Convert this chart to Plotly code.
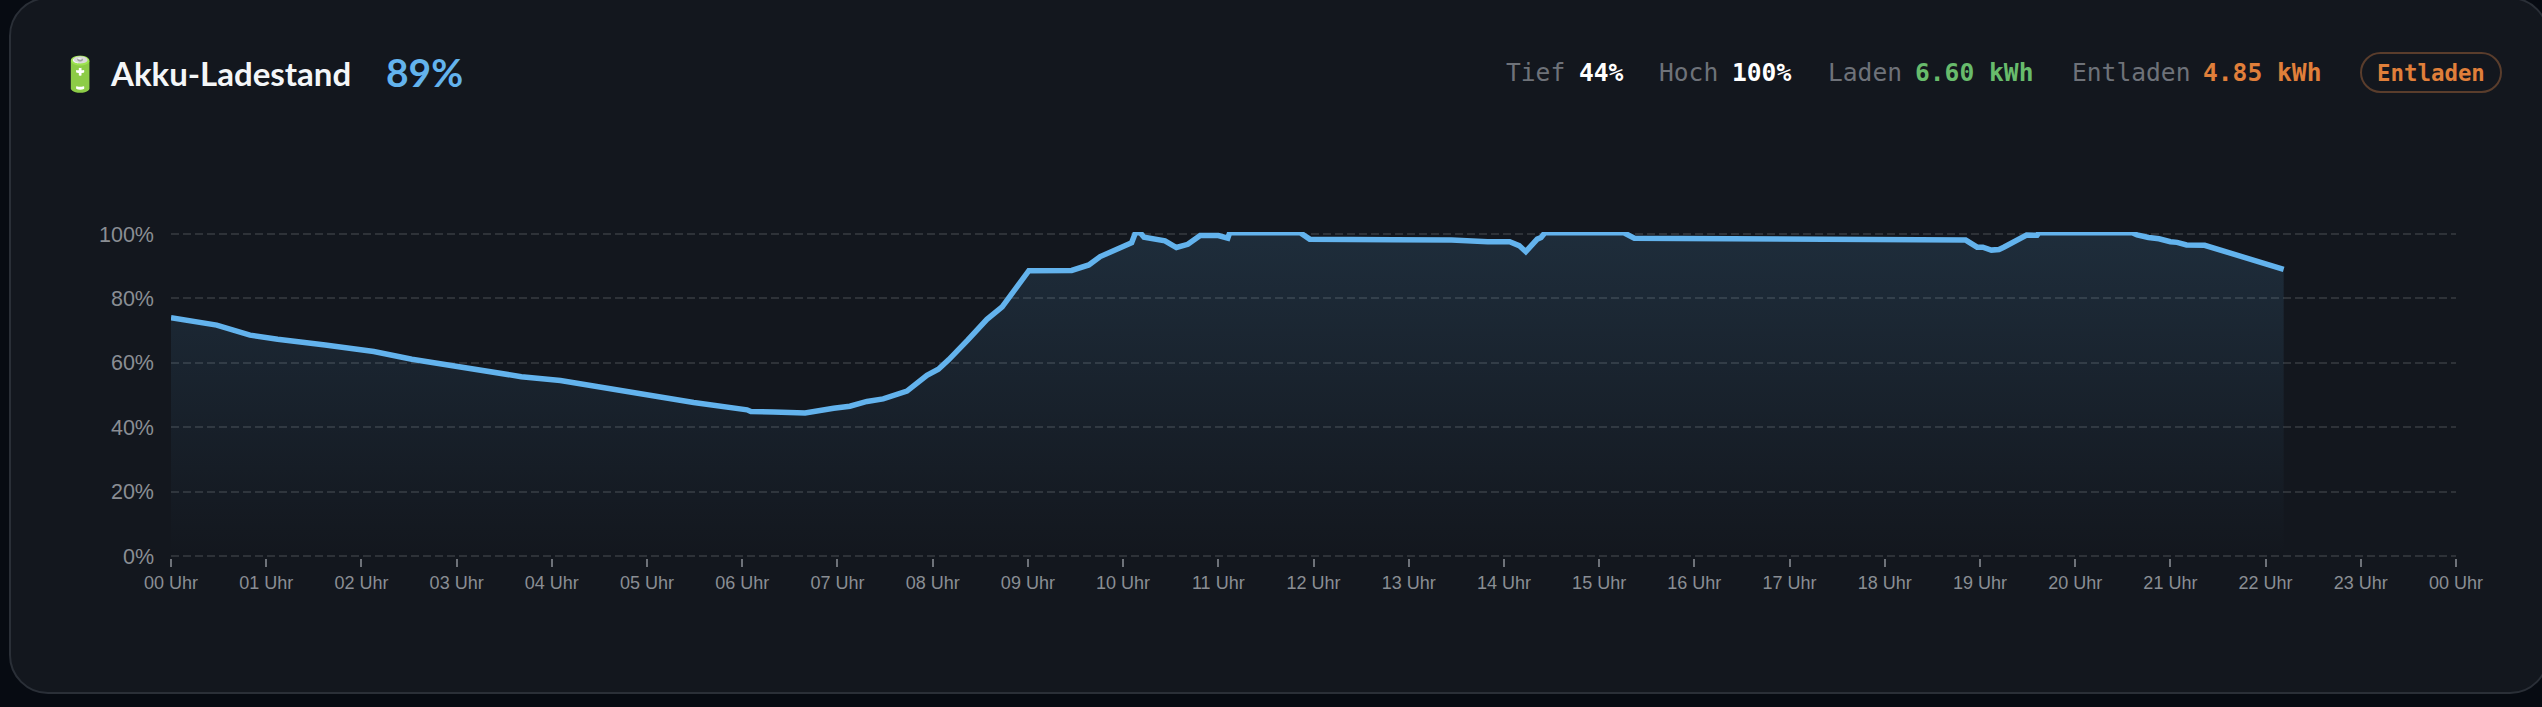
import plotly.graph_objects as go

hour = [0, 0.15, 0.48, 0.83, 1.12, 1.62, 2.13, 2.53, 3.02, 3.68, 4.09, 4.79, 5.49, 6.05, 6.09, 6.33, 6.66,
        6.96, 7.13, 7.31, 7.48, 7.73, 7.94, 8.06, 8.17, 8.37, 8.57, 8.73, 8.83, 8.95, 9.01, 9.46, 9.64,
        9.76, 9.88, 10.0, 10.09, 10.13, 10.18, 10.22, 10.32, 10.44, 10.56, 10.68, 10.81, 11.0, 11.1, 11.12,
        11.86, 11.96, 12.84, 13.45, 13.83, 14.06, 14.16, 14.23, 14.35, 14.39, 14.43, 15.26, 15.37, 16.55,
        18.85, 18.97, 19.03, 19.12, 19.2, 19.25, 19.34, 19.41, 19.49, 19.6, 19.62, 20.6, 20.65, 20.77,
        20.88, 21.0, 21.07, 21.17, 21.36, 22.19]
soc = [74.0, 73.3, 71.7, 68.6, 67.3, 65.5, 63.5, 61.1, 58.8, 55.7, 54.5, 51.0, 47.7, 45.4, 44.9, 44.7, 44.4,
       45.9, 46.5, 48.0, 48.8, 51.2, 56.1, 58.0, 61.0, 67.1, 73.5, 77.4, 81.6, 86.2, 88.6, 88.7, 90.4,
       93.0, 94.6, 96.3, 97.3, 100.4, 100.4, 99.0, 98.5, 97.9, 95.8, 96.8, 99.5, 99.5, 98.7, 100.4,
       100.4, 98.4, 98.2, 98.1, 97.6, 97.6, 96.4, 94.5, 98.4, 98.9, 100.4, 100.4, 98.7, 98.4,
       98.1, 95.9, 95.9, 95.0, 95.2, 95.9, 97.5, 98.3, 99.7, 99.6, 100.4, 100.4, 99.7, 98.9,
       98.5, 97.6, 97.4, 96.6, 96.5, 89.0]
hour_ticks = list(range(25))
hour_labels = [f"{h % 24:02d} Uhr" for h in hour_ticks]
pct_ticks = [0, 20, 40, 60, 80, 100]
pct_labels = ["0%", "20%", "40%", "60%", "80%", "100%"]

W, H = 2542, 707
L, R, T, B = 171, 2456, 232, 558
PAD = 2 * 100 / 322  # two pixels of headroom so the 0% and 100% grid lines are drawn
BG = "#070b12"
CARD = "#13171e"
GREY = "#6e7279"
SANS = "Liberation Sans"
MONO = "DejaVu Sans Mono"
HEAD = "Lato"


def px(x):
    return (x - L) / (R - L)


def py(y):
    return (B - y) / (B - T)


def rounded(x0, y0, x1, y1, r):
    k = r * 0.45
    return (
        f"M {px(x0 + r)} {py(y0)} L {px(x1 - r)} {py(y0)} "
        f"C {px(x1 - k)} {py(y0)} {px(x1)} {py(y0 + k)} {px(x1)} {py(y0 + r)} "
        f"L {px(x1)} {py(y1 - r)} "
        f"C {px(x1)} {py(y1 - k)} {px(x1 - k)} {py(y1)} {px(x1 - r)} {py(y1)} "
        f"L {px(x0 + r)} {py(y1)} "
        f"C {px(x0 + k)} {py(y1)} {px(x0)} {py(y1 - k)} {px(x0)} {py(y1 - r)} "
        f"L {px(x0)} {py(y0 + r)} "
        f"C {px(x0)} {py(y0 + k)} {px(x0 + k)} {py(y0)} {px(x0 + r)} {py(y0)} Z"
    )


fig = go.Figure()
fig.add_trace(go.Scatter(
    x=hour, y=soc, mode="lines", line=dict(color="#63b3ed", width=5.5, shape="linear"),
    fill="tozeroy",
    fillgradient=dict(type="vertical", colorscale=[[0, "rgba(99,179,237,0)"], [1, "rgba(99,179,237,0.14)"]]),
    hoverinfo="skip", showlegend=False, cliponaxis=False,
))


def label(x, y, text, size, color, font=MONO, anchor="left", bold=False):
    fig.add_annotation(
        xref="paper", yref="paper", x=px(x), y=py(y), text=f"<b>{text}</b>" if bold else text,
        showarrow=False, xanchor=anchor, yanchor="middle", borderpad=0, borderwidth=0,
        font=dict(family=font, size=size, color=color),
    )


label(110, 73, "Akku-Ladestand", 33, "#f4f6f8", HEAD, bold=True)
label(386, 72, "89%", 39, "#63b3ed", HEAD, bold=True)
for x, t, col, bold in [
    (1506, "Tief", GREY, False), (1579, "44%", "#ffffff", True),
    (1659, "Hoch", GREY, False), (1732, "100%", "#ffffff", True),
    (1828, "Laden", GREY, False), (1915, "6.60 kWh", "#68bb6c", True),
    (2072, "Entladen", GREY, False), (2203, "4.85 kWh", "#e07f3a", True),
]:
    label(x, 73, t, 24.6, col, bold=bold)
label(2431, 73, "Entladen", 22.4, "#e07f3a", anchor="center", bold=True)
label(80, 73, "🔋", 34, "#7cb342", "Noto Sans", anchor="center")

fig.add_shape(type="path", xref="paper", yref="paper", path=rounded(10, -2, 2548, 693, 38), layer="below",
              fillcolor=CARD, line=dict(color="#2a2f37", width=2))
fig.add_shape(type="path", xref="paper", yref="paper", path=rounded(2361, 53, 2501, 92, 19.5), layer="below",
              fillcolor="rgba(0,0,0,0)", line=dict(color="#5a3d2c", width=2))

fig.update_layout(
    width=W, height=H, autosize=False,
    margin=dict(l=L, r=W - R, t=T, b=H - B, pad=0),
    paper_bgcolor=BG, plot_bgcolor="rgba(0,0,0,0)",
    xaxis=dict(range=[0, 24], tickmode="array", tickvals=hour_ticks, ticktext=hour_labels,
               showgrid=False, zeroline=False, showline=False,
               ticks="outside", ticklen=8, tickwidth=2, tickcolor="#6e7279",
               tickfont=dict(family=SANS, size=18, color="#8a8e94"), tickangle=0),
    yaxis=dict(range=[-PAD, 100 + PAD], tickmode="array", tickvals=pct_ticks, ticktext=pct_labels,
               showgrid=True, gridcolor="#2e3238", griddash="8px,4px", gridwidth=1.5,
               zeroline=False, showline=False, ticks="", ticklabelstandoff=16,
               tickfont=dict(family=SANS, size=21.5, color="#8a8e94")),
)
fig.write_html("out.html", config={"displayModeBar": False},
               post_script="document.body.style.margin='0';document.body.style.background='#070b12';")
